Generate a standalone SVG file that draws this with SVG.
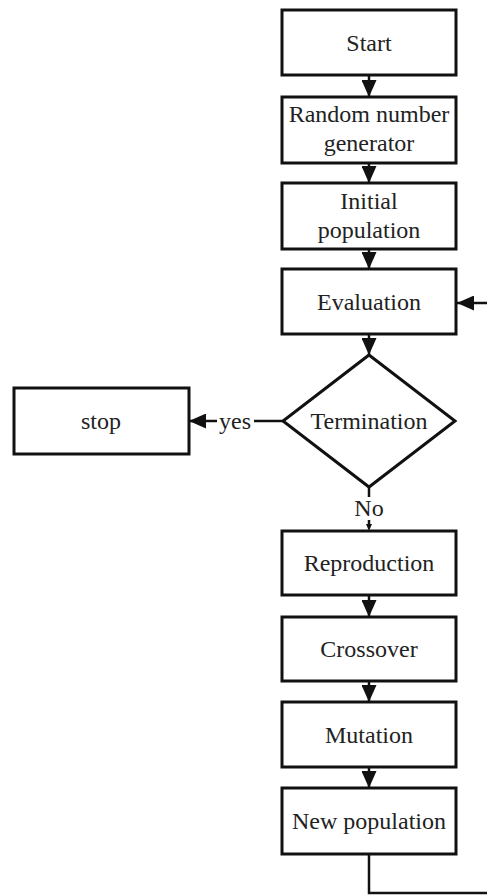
<svg xmlns="http://www.w3.org/2000/svg" width="487" height="896" viewBox="0 0 487 896">
<style>
.box{fill:#fff;stroke:#111;stroke-width:3}
.t{font-family:"Liberation Serif","Times New Roman",serif;font-size:24px;fill:#222;text-anchor:middle}
.c{fill:none;stroke:#111;stroke-width:2.5}
.ah{fill:#111}
</style>
<defs>
<marker id="arr" markerWidth="17" markerHeight="15" refX="17" refY="7.5" orient="auto" markerUnits="userSpaceOnUse">
<path d="M0,0 L17,7.5 L0,15 Z" fill="#111"/>
</marker>
</defs>
<rect width="487" height="896" fill="#fff"/>
<g id="start"><rect class="box" x="282" y="10" width="174" height="65"/><text class="t" x="369" y="51">Start</text></g>
<g id="random"><rect class="box" x="282" y="97" width="174" height="66"/><text class="t" x="369" y="122">Random number</text><text class="t" x="369" y="151">generator</text></g>
<g id="initial"><rect class="box" x="282" y="183" width="174" height="66"/><text class="t" x="369" y="209">Initial</text><text class="t" x="369" y="238">population</text></g>
<g id="evaluation"><rect class="box" x="282" y="269" width="174" height="65"/><text class="t" x="369" y="310">Evaluation</text></g>
<g id="termination"><polygon class="box" points="369,355 455,421 369,487 283,421"/><text class="t" x="369" y="429">Termination</text></g>
<g id="stop"><rect class="box" x="14" y="388" width="175" height="66"/><text class="t" x="101" y="429">stop</text></g>
<g id="reproduction"><rect class="box" x="282" y="531" width="174" height="64"/><text class="t" x="369" y="571">Reproduction</text></g>
<g id="crossover"><rect class="box" x="282" y="617" width="174" height="64"/><text class="t" x="369" y="657">Crossover</text></g>
<g id="mutation"><rect class="box" x="282" y="702" width="174" height="65"/><text class="t" x="369" y="743">Mutation</text></g>
<g id="newpop"><rect class="box" x="282" y="788" width="174" height="66"/><text class="t" x="369" y="829">New population</text></g>
<g id="connectors">
<line class="c" x1="369" y1="75" x2="369" y2="97" marker-end="url(#arr)"/>
<line class="c" x1="369" y1="163" x2="369" y2="183" marker-end="url(#arr)"/>
<line class="c" x1="369" y1="249" x2="369" y2="269" marker-end="url(#arr)"/>
<line class="c" x1="369" y1="334" x2="369" y2="355" marker-end="url(#arr)"/>
<line class="c" x1="369" y1="595" x2="369" y2="617" marker-end="url(#arr)"/>
<line class="c" x1="369" y1="681" x2="369" y2="702" marker-end="url(#arr)"/>
<line class="c" x1="369" y1="767" x2="369" y2="788" marker-end="url(#arr)"/>
<line class="c" x1="283" y1="421" x2="254" y2="421"/>
<line class="c" x1="217" y1="421" x2="189" y2="421" marker-end="url(#arr)"/>
<text class="t" x="235" y="429">yes</text>
<line class="c" x1="369" y1="487" x2="369" y2="497"/>
<text class="t" x="369" y="516">No</text>
<line class="c" x1="369" y1="520" x2="369" y2="525"/>
<polygon class="ah" points="366,524 372,524 369,531"/>
<polyline class="c" points="369,854 369,893 490,893"/>
<line class="c" x1="490" y1="303" x2="457" y2="303" marker-end="url(#arr)"/>
</g>
</svg>
